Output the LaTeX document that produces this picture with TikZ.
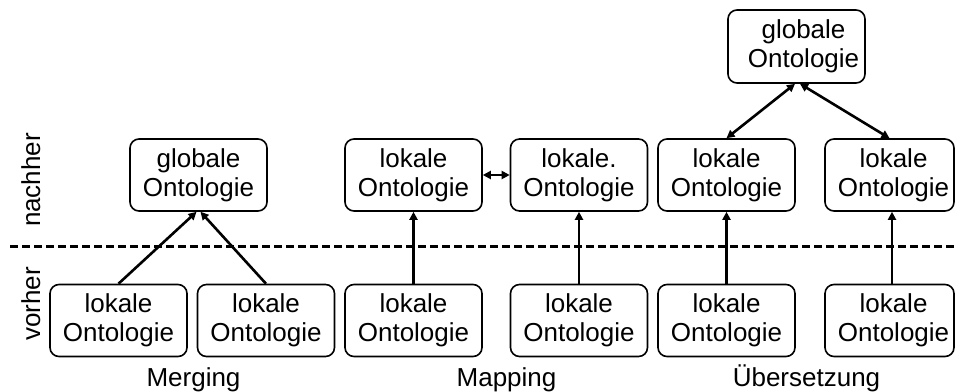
\documentclass[tikz,border=0pt]{standalone}
\usepackage{fontspec}
\setmainfont{Liberation Sans}
\usetikzlibrary{arrows.meta,calc}

\tikzset{
  onto/.style={draw, line width=1.6pt, rounded corners=9pt, align=center,
    minimum width=137pt, minimum height=72pt, inner sep=0pt,
    font=\fontsize{26}{29}\selectfont},
  narrow/.style={minimum width=129pt},
  arr/.style={line width=2.6pt, -{Triangle[length=8pt,width=8pt]}},
  darr/.style={line width=2.6pt, {Triangle[length=8pt,width=8pt]}-{Triangle[length=8pt,width=8pt]}},
  sep/.style={line width=3pt, dash pattern=on 7.5pt off 4.5pt},
  lbl/.style={font=\fontsize{26}{29}\selectfont, inner sep=0pt},
}

\begin{document}
\begin{tikzpicture}[x=1pt, y=-1pt]
  \useasboundingbox (0,0) rectangle (955,391);

  % before / after separator
  \coordinate (sepL) at (10,246);
  \coordinate (sepR) at (955,246);
  \draw[sep] (sepL) -- (sepR);
  \node[lbl, rotate=90, anchor=base] (after) at (40,180) {nachher};
  \node[lbl, rotate=90, anchor=base] (before) at (40,304) {vorher};

  % Merging
  \node[onto] (m1) at (118.5,320.5) {lokale\\Ontologie};
  \node[onto] (m2) at (266,320.5) {lokale\\Ontologie};
  \node[onto] (mg) at (198.5,175) {globale\\Ontologie};
  \draw[arr] (m1.north) -- ($(mg.south)+(-2,0)$);
  \draw[arr] (m2.north) -- ($(mg.south)+(2,0)$);
  \node[lbl, anchor=base] (merging) at (193.5,386) {Merging};

  % Mapping
  \node[onto] (a1) at (413.5,320.5) {lokale\\Ontologie};
  \node[onto] (b1) at (579,320.5) {lokale\\Ontologie};
  \node[onto] (a2) at (413.5,175) {lokale\\Ontologie};
  \node[onto] (b2) at (579,175) {lokale.\\Ontologie};
  \draw[arr] (a1.north) -- (a2.south);
  \draw[arr] (b1.north) -- (b2.south);
  \draw[darr] (a2.east) -- (b2.west);
  \node[lbl, anchor=base] (mapping) at (506.5,386) {Mapping};

  % Uebersetzung
  \node[onto] (u1) at (726.5,320.5) {lokale\\Ontologie};
  \node[onto, narrow] (w1) at (889.5,320.5) {\hspace*{8pt}lokale\\\hspace*{8pt}Ontologie};
  \node[onto] (u2) at (726.5,175) {lokale\\Ontologie};
  \node[onto, narrow] (w2) at (889.5,175) {\hspace*{8pt}lokale\\\hspace*{8pt}Ontologie};
  \node[onto, minimum height=73pt] (ug) at (796.5,46.5) {\hspace*{14pt}globale\\\hspace*{14pt}Ontologie};
  \draw[arr] (u1.north) -- (u2.south);
  \draw[arr] ($(w1.north)+(2.5,0)$) -- ($(w2.south)+(2.5,0)$);
  \draw[darr] ($(ug.south)+(-1.5,0)$) -- (u2.north);
  \draw[darr] ($(ug.south)+(3.5,0)$) -- (w2.north);
  \node[lbl, anchor=base] (uebers) at (806.5,386) {Übersetzung};
\end{tikzpicture}
\end{document}
